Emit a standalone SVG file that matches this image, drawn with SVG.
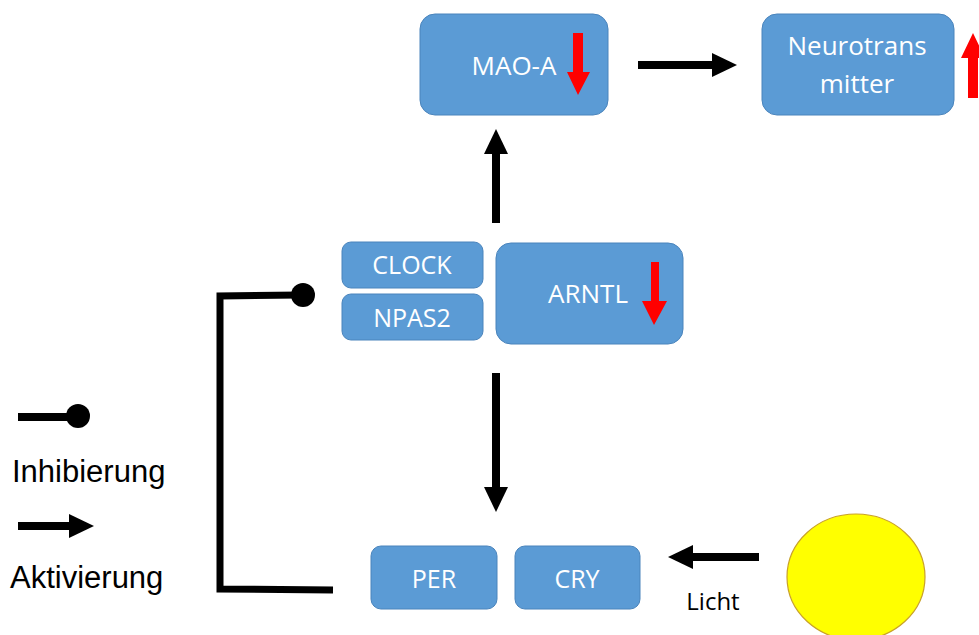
<svg xmlns="http://www.w3.org/2000/svg" width="979" height="635" viewBox="0 0 979 635">
  <style>
    .box { fill: #5B9BD5; stroke: #4A84BC; stroke-width: 1; }
    .lbl { font-family: "Open Sans", "Noto Sans", sans-serif; fill: #FFFFFF; text-anchor: middle; }
    .big { font-size: 26px; }
    .small { font-size: 25px; }
    .legend { font-family: "Liberation Sans", Arial, sans-serif; font-size: 31px; fill: #000000; }
    .caption { font-family: "Open Sans", "Noto Sans", sans-serif; font-size: 24px; fill: #000000; text-anchor: middle; }
    .act { stroke: #000000; stroke-width: 8; fill: none; marker-end: url(#head); }
    .inh { stroke: #000000; stroke-width: 7; fill: none; stroke-linejoin: miter; }
    .change { fill: #FF0000; }
  </style>
  <defs>
    <marker id="head" markerUnits="userSpaceOnUse" markerWidth="25" markerHeight="24" refX="0" refY="12" orient="auto">
      <path d="M0,0 L25,12 L0,24 Z" fill="#000000"/>
    </marker>
  </defs>

  <rect width="979" height="635" fill="#FFFFFF"/>

  <!-- nodes -->
  <g id="mao-a">
    <rect class="box" x="420" y="14" width="188" height="101" rx="15"/>
    <text class="lbl big" x="514" y="75">MAO-A</text>
    <path class="change" d="M573,33 H583 V72 H590 L578,95 L567,72 H573 Z"/>
  </g>

  <g id="neurotransmitter">
    <rect class="box" x="762" y="14" width="192" height="101" rx="15"/>
    <text class="lbl big" x="857" y="55">Neurotrans</text>
    <text class="lbl big" x="857" y="93">mitter</text>
    <path class="change" d="M968,98 H978 V58 H985 L973,33 L961,58 H968 Z"/>
  </g>

  <g id="clock">
    <rect class="box" x="342" y="242" width="141" height="46" rx="9"/>
    <text class="lbl small" x="412" y="274">CLOCK</text>
  </g>

  <g id="npas2">
    <rect class="box" x="342" y="294" width="141" height="46" rx="9"/>
    <text class="lbl small" x="412" y="327">NPAS2</text>
  </g>

  <g id="arntl">
    <rect class="box" x="496" y="243" width="187" height="101" rx="15"/>
    <text class="lbl big" x="588" y="303">ARNTL</text>
    <path class="change" d="M651,262 H659 V301 H667 L654,325 L642,301 H651 Z"/>
  </g>

  <g id="per">
    <rect class="box" x="371" y="546" width="126" height="63" rx="10"/>
    <text class="lbl small" x="434" y="588">PER</text>
  </g>

  <g id="cry">
    <rect class="box" x="515" y="546" width="125" height="63" rx="10"/>
    <text class="lbl small" x="577" y="588">CRY</text>
  </g>

  <g id="sun">
    <ellipse cx="856" cy="577" rx="69" ry="63" fill="#FFFF00" stroke="#C9A227" stroke-width="1.2"/>
  </g>

  <!-- connectors -->
  <g id="connectors">
    <line class="act" x1="638" y1="65" x2="712" y2="65"/>
    <line class="act" x1="496" y1="223" x2="496" y2="154"/>
    <line class="act" x1="496" y1="373" x2="496" y2="487"/>
    <line class="act" x1="759" y1="557" x2="693" y2="557"/>
    <polyline class="inh" points="300,295 220,296 220,589 333,590"/>
    <circle cx="303" cy="295" r="12" fill="#000000"/>
    <text class="caption" x="713" y="610">Licht</text>
  </g>

  <!-- legend -->
  <g id="legend">
    <line x1="18" y1="417" x2="72" y2="417" stroke="#000000" stroke-width="8"/>
    <circle cx="78" cy="416" r="12" fill="#000000"/>
    <text class="legend" x="12" y="482">Inhibierung</text>
    <line class="act" x1="18" y1="526" x2="69" y2="526"/>
    <text class="legend" x="10" y="588">Aktivierung</text>
  </g>
</svg>
